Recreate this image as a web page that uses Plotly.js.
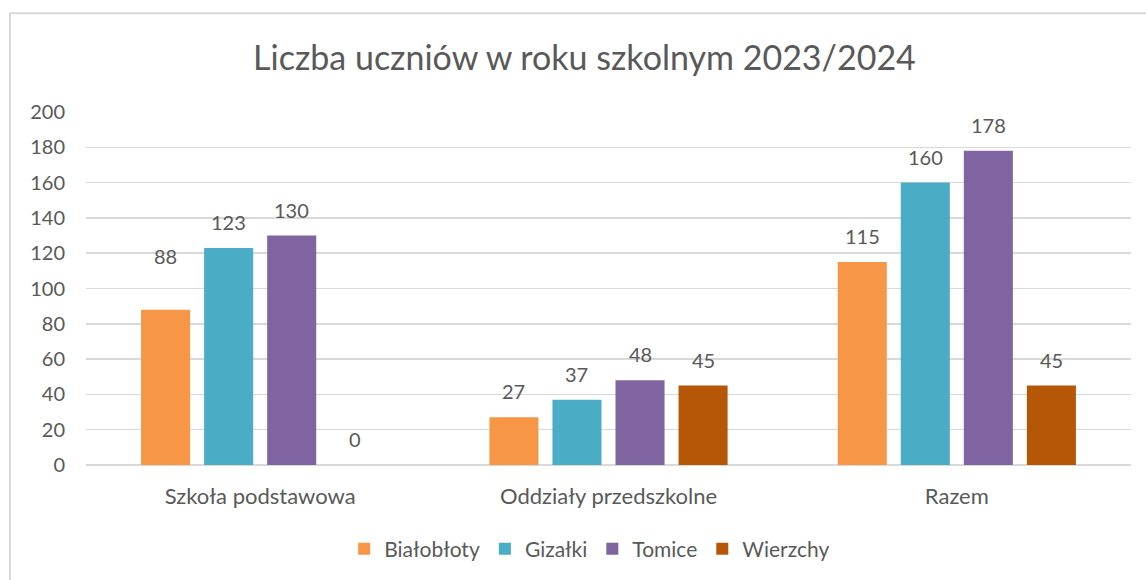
<!DOCTYPE html>
<html>
<head>
<meta charset="utf-8">
<script src="https://cdn.plot.ly/plotly-3.0.1.min.js"></script>
<style>html,body{margin:0;padding:0;background:#fff;}#chart{width:1146px;height:580px;}</style>
</head>
<body>
<div id="chart"></div>
<script>
const categories = ["Szkoła podstawowa", "Oddziały przedszkolne", "Razem"];
const seriesNames = ["Białobłoty", "Gizałki", "Tomice", "Wierzchy"];
const bialobloty = [88, 27, 115];
const gizalki = [123, 37, 160];
const tomice = [130, 48, 178];
const wierzchy = [0, 45, 45];
const yTicks = [0, 20, 40, 60, 80, 100, 120, 140, 160, 180, 200];

const colors = ["#F79646", "#4BACC6", "#8064A2", "#B65708"];
const values = [bialobloty, gizalki, tomice, wierzchy];
const FONT = "Lato, 'Open Sans', sans-serif";
const TXT = "#595959";

const W = 1146, H = 580;
const margin = {l: 86, r: 15, t: 112, b: 114};
const bargap = 0.276;
const plotW = W - margin.l - margin.r;
const slot = (plotW / categories.length) * (1 - bargap) / values.length;

const traces = values.map((v, i) => ({
  type: "bar",
  name: seriesNames[i],
  x: categories,
  y: v,
  marker: {color: colors[i]},
  hoverinfo: "x+y+name"
}));

// data labels above each bar
const annotations = [];
values.forEach((v, i) => {
  v.forEach((val, j) => {
    annotations.push({
      x: categories[j], y: val, xref: "x", yref: "y",
      text: String(val), showarrow: false,
      xanchor: "center", yanchor: "middle",
      xshift: (i - (values.length - 1) / 2) * slot,
      yshift: (i === 0 && j === 0) ? 54 : 26,
      font: {family: FONT, size: 20, color: TXT}
    });
  });
});

const layout = {
  width: W, height: H,
  paper_bgcolor: "#fff", plot_bgcolor: "#fff",
  margin: margin,
  barmode: "group",
  bargap: bargap,
  bargroupgap: 0.222,
  title: {text: "Liczba uczniów w roku szkolnym 2023/2024", font: {family: FONT, size: 34, color: TXT}, x: 0.51, xanchor: "center", y: 0.9, yanchor: "middle", yref: "container"},
  xaxis: {tickfont: {family: FONT, size: 22, color: TXT}, showline: false, ticks: "", showgrid: false, ticklabelstandoff: 16},
  yaxis: {range: [0, 200], tickvals: yTicks, tickfont: {family: FONT, size: 20, color: TXT},
          showgrid: true, gridcolor: "#D9D9D9", gridwidth: 1.5, zeroline: true, zerolinecolor: "#D9D9D9", zerolinewidth: 1.5,
          ticks: "", ticklabelstandoff: 20, fixedrange: true},
  legend: {orientation: "h", x: 0.482, xanchor: "center", y: -0.235, yanchor: "middle", font: {family: FONT, size: 21, color: TXT}, itemwidth: 30, traceorder: "normal"},
  annotations: annotations,
  shapes: [{type: "rect", xref: "paper", yref: "paper", x0: -0.0727, x1: 1.2, y0: -0.6, y1: 1.2797, line: {color: "#D9D9D9", width: 2}, fillcolor: "rgba(0,0,0,0)", layer: "below"}],
  showlegend: true
};

Plotly.newPlot("chart", traces, layout, {displayModeBar: false, staticPlot: true});
</script>
</body>
</html>
